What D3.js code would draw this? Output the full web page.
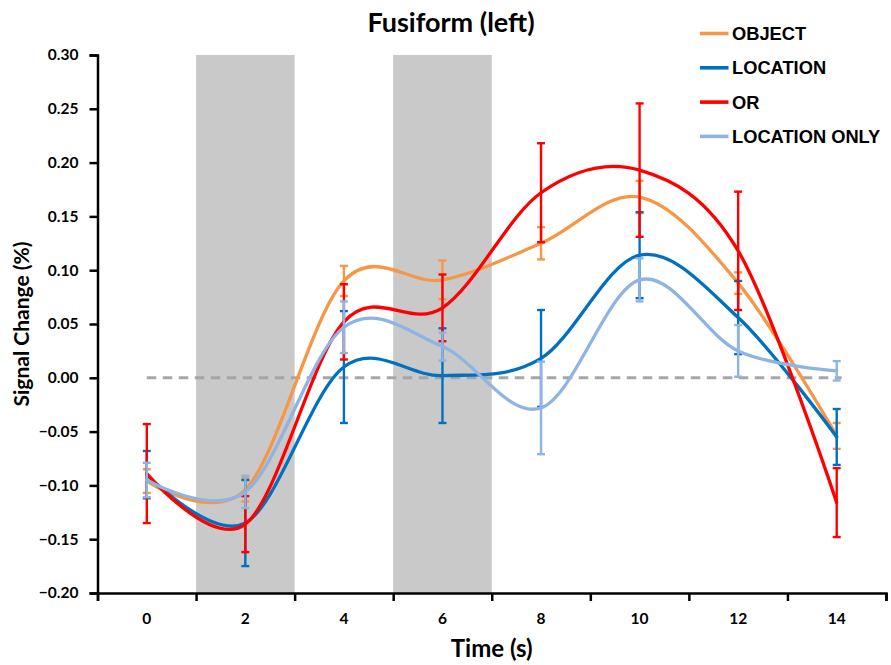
<!DOCTYPE html>
<html>
<head>
<meta charset="utf-8">
<script src="https://cdn.jsdelivr.net/npm/d3@7"></script>
<style>
  body { margin: 0; background: #fff; }
  svg { display: block; }
</style>
</head>
<body>
<svg id="chart" width="891" height="665"></svg>
<script>
// Time points (s)
const times = [0, 2, 4, 6, 8, 10, 12, 14];

// Mean signal change (%) per condition, with error bar half-widths
const objectVals      = [-0.096, -0.104, 0.090, 0.091, 0.125, 0.168, 0.088, -0.054];
const objectErr       = [0.011, 0.011, 0.014, 0.018, 0.015, 0.015, 0.010, 0.012];
const locationVals    = [-0.090, -0.135, 0.010, 0.002, 0.018, 0.114, 0.056, -0.055];
const locationErr     = [0.022, 0.040, 0.052, 0.044, 0.045, 0.040, 0.034, 0.026];
const orVals          = [-0.089, -0.136, 0.052, 0.065, 0.172, 0.193, 0.118, -0.116];
const orErr           = [0.046, 0.026, 0.035, 0.031, 0.046, 0.062, 0.055, 0.032];
const locOnlyVals     = [-0.095, -0.106, 0.047, 0.029, -0.028, 0.091, 0.025, 0.0065];
const locOnlyErr      = [0.016, 0.015, 0.024, 0.013, 0.043, 0.020, 0.024, 0.009];

// Shaded stimulus periods [start, end] in seconds
const stimBlocks = [[1, 3], [5, 7]];

// Axis ticks
const xTickLabels = [0, 2, 4, 6, 8, 10, 12, 14];
const xTickMarks = [-1, 1, 3, 5, 7, 9, 11, 13, 15];
const yTicks = [-0.20, -0.15, -0.10, -0.05, 0.00, 0.05, 0.10, 0.15, 0.20, 0.25, 0.30];

const seriesNames = ["OBJECT", "LOCATION", "OR", "LOCATION ONLY"];
const seriesColors = ["#F79646", "#0070C0", "#FF0000", "#8DB4E2"];
const seriesVals = [objectVals, locationVals, orVals, locOnlyVals];
const seriesErr = [objectErr, locationErr, orErr, locOnlyErr];

const svg = d3.select("#chart");
const plotLeft = 97.5, plotRight = 886, plotTop = 55, plotBottom = 593;

const x = d3.scaleLinear().domain([-1, 15]).range([plotLeft, plotRight]);
const y = d3.scaleLinear().domain([-0.20, 0.30]).range([plotBottom, plotTop]);

// Stimulus shading
svg.append("g").selectAll("rect").data(stimBlocks).join("rect")
  .attr("x", d => x(d[0]))
  .attr("width", d => x(d[1]) - x(d[0]))
  .attr("y", y(0.30))
  .attr("height", y(-0.20) - y(0.30))
  .attr("fill", "#c9c9c9");

// Zero baseline
svg.append("line")
  .attr("x1", x(0)).attr("x2", x(14.1))
  .attr("y1", y(0)).attr("y2", y(0))
  .attr("stroke", "#a6a6a6").attr("stroke-width", 3)
  .attr("stroke-dasharray", "9.5,6.5");

// Smoothed response curves with error bars
const line = d3.line()
  .x((d, i) => x(times[i]))
  .y(d => y(d))
  .curve(d3.curveCardinal.tension(0));

seriesVals.forEach((vals, s) => {
  const g = svg.append("g");
  const color = seriesColors[s];
  const errs = seriesErr[s];
  const bars = g.selectAll("g.eb").data(vals).join("g").attr("class", "eb");
  bars.append("line")
    .attr("x1", (d, i) => x(times[i])).attr("x2", (d, i) => x(times[i]))
    .attr("y1", (d, i) => y(d + errs[i])).attr("y2", (d, i) => y(d - errs[i]))
    .attr("stroke", color).attr("stroke-width", 2.4);
  [1, -1].forEach(sign => {
    bars.append("line")
      .attr("x1", (d, i) => x(times[i]) - 4).attr("x2", (d, i) => x(times[i]) + 4)
      .attr("y1", (d, i) => y(d + sign * errs[i])).attr("y2", (d, i) => y(d + sign * errs[i]))
      .attr("stroke", color).attr("stroke-width", 2.4);
  });
  g.append("path")
    .datum(vals)
    .attr("d", line)
    .attr("fill", "none")
    .attr("stroke", color)
    .attr("stroke-width", 3.3)
    .attr("stroke-linecap", "round");
});

// Axes
const font = "Lato, 'Open Sans', sans-serif";
const yAxis = svg.append("g")
  .attr("transform", `translate(${plotLeft},0)`)
  .call(d3.axisLeft(y).tickValues(yTicks).tickSize(8).tickPadding(11).tickFormat(d3.format(".2f")));
const xAxis = svg.append("g")
  .attr("transform", `translate(0,${plotBottom})`)
  .call(d3.axisBottom(x).tickValues(xTickMarks).tickSize(8).tickFormat(""));

[yAxis, xAxis].forEach(a => {
  a.select(".domain").attr("stroke", "#000").attr("stroke-width", 2.5);
  a.selectAll(".tick line").attr("stroke", "#000").attr("stroke-width", 2.5);
});
yAxis.selectAll(".tick text")
  .attr("font-family", font).attr("font-weight", "bold")
  .attr("font-size", 15.5).attr("fill", "#000");

svg.append("g").selectAll("text").data(xTickLabels).join("text")
  .attr("x", d => x(d)).attr("y", 624)
  .attr("text-anchor", "middle")
  .attr("font-family", font).attr("font-weight", "bold")
  .attr("font-size", 15.5).attr("fill", "#000")
  .text(d => d);

// Titles
svg.append("text")
  .attr("x", 451).attr("y", 32)
  .attr("text-anchor", "middle")
  .attr("font-family", font).attr("font-weight", "bold")
  .attr("font-size", 27).attr("fill", "#000")
  .text("Fusiform (left)");

svg.append("text")
  .attr("x", (plotLeft + plotRight) / 2).attr("y", 657)
  .attr("text-anchor", "middle")
  .attr("font-family", font).attr("font-weight", "bold")
  .attr("font-size", 24).attr("fill", "#000")
  .text("Time (s)");

svg.append("text")
  .attr("transform", `translate(29,${(plotTop + plotBottom) / 2}) rotate(-90)`)
  .attr("text-anchor", "middle")
  .attr("font-family", font).attr("font-weight", "bold")
  .attr("font-size", 21).attr("fill", "#000")
  .text("Signal Change (%)");

// Legend
const legend = svg.append("g").attr("transform", "translate(700,33.5)");
seriesNames.forEach((name, i) => {
  const row = legend.append("g").attr("transform", `translate(0,${i * 34.3})`);
  row.append("line").attr("x1", 0).attr("x2", 28.5).attr("y1", 0).attr("y2", 0)
    .attr("stroke", seriesColors[i]).attr("stroke-width", 3.6);
  row.append("text").attr("x", 32).attr("y", 6.6)
    .attr("font-family", "'Liberation Sans', Arial, sans-serif")
    .attr("font-weight", "bold").attr("font-size", 18.3).attr("fill", "#000")
    .text(name);
});
</script>
</body>
</html>
